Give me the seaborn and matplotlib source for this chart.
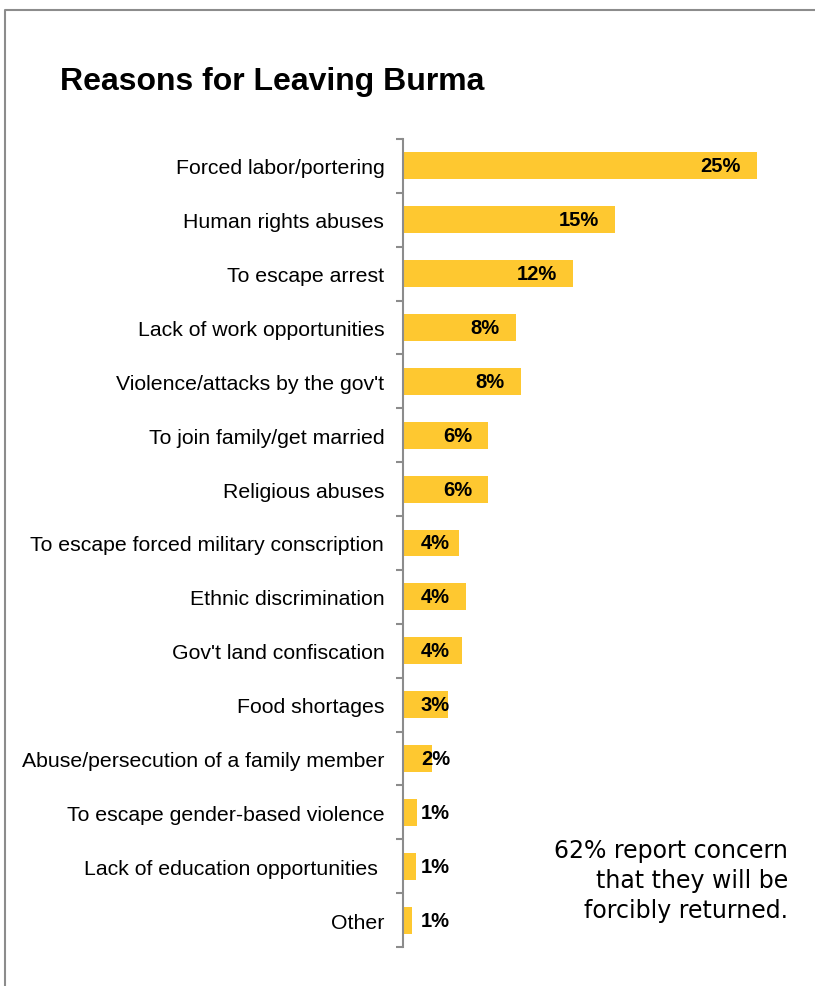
import matplotlib
matplotlib.use("Agg")
import matplotlib.pyplot as plt
import seaborn as sns
import pandas as pd
from matplotlib.lines import Line2D

categories = [
    "Forced labor/portering",
    "Human rights abuses",
    "To escape arrest",
    "Lack of work opportunities",
    "Violence/attacks by the gov't",
    "To join family/get married",
    "Religious abuses",
    "To escape forced military conscription",
    "Ethnic discrimination",
    "Gov't land confiscation",
    "Food shortages",
    "Abuse/persecution of a family member",
    "To escape gender-based violence",
    "Lack of education opportunities ",
    "Other",
]
values = [25.0, 15.0, 12.0, 7.98, 8.33, 6.0, 6.0, 3.95, 4.45, 4.17, 3.18, 2.05, 0.99, 0.92, 0.64]
value_labels = ["25%", "15%", "12%", "8%", "8%", "6%", "6%", "4%", "4%", "4%", "3%", "2%", "1%", "1%", "1%"]

title = "Reasons for Leaving Burma"
note = "62% report concern\nthat they will be\nforcibly returned."

df = pd.DataFrame({"reason": categories, "pct": values})

sns.set_theme(style="white")
plt.rcParams["font.family"] = ["Liberation Sans", "DejaVu Sans"]

W, H = 815, 987
fig = plt.figure(figsize=(W / 100, H / 100), dpi=100)
ax = fig.add_axes([403 / W, 1 - 948 / H, (790 - 403) / W, (948 - 140) / H])

sns.barplot(data=df, y="reason", x="pct", orient="h", color="#FEC830",
            saturation=1, width=0.5, linewidth=0, ax=ax)

xmax = (790 - 403) / 14.16
ax.set_xlim(0, xmax)
ax.set_ylim(len(categories) - 0.5, -0.5)

for i, (v, lab) in enumerate(zip(values, value_labels)):
    xpos = max(v - 1.13, 3.32)
    ax.text(xpos, i, lab, ha="right", va="center", fontsize=14.5,
            fontweight="bold", color="black")

ax.set_xlabel("")
ax.set_ylabel("")
ax.set_xticks([])
ax.tick_params(axis="y", which="major", left=False, length=0, pad=13.5,
               labelsize=15.3, labelcolor="black")
ax.set_yticks([i - 0.5 for i in range(len(categories) + 1)], minor=True)
ax.tick_params(axis="y", which="minor", left=True, length=5, width=1.5,
               color="#8c8c8c", direction="out")
for s in ["top", "right", "bottom"]:
    ax.spines[s].set_visible(False)
ax.spines["left"].set_color("#8c8c8c")
ax.spines["left"].set_linewidth(1.5)

fig.text(60 / W, 1 - 82 / H, title, ha="left", va="center", fontsize=23,
         fontweight="bold", color="black")
fig.text(788 / W, 1 - 881 / H, note, ha="right", va="center", fontsize=17,
         family=["DejaVu Sans"], linespacing=1.32, color="black")

# frame
fig.add_artist(Line2D([5 / W, 5 / W, 1.0], [0.0, 1 - 11 / H, 1 - 11 / H],
                      transform=fig.transFigure, color="#8c8c8c", lw=1.5))

fig.savefig("out.png", dpi=100)
